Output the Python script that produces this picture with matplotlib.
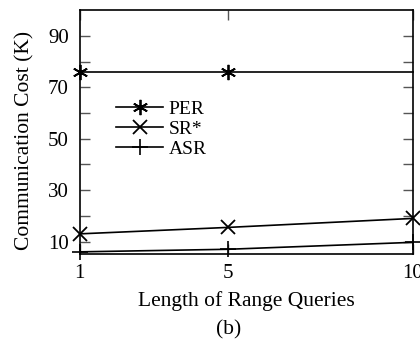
import matplotlib.pyplot as plt

plt.rcParams['font.family'] = ['Liberation Serif', 'DejaVu Serif']

# data
x = [1, 5, 10]
per = [76, 76, 76]
sr = [13, 15.5, 19]
asr = [6, 7, 9.7]

fig = plt.figure(figsize=(4.2, 3.49), dpi=100)
ax = fig.add_axes([0.190, 0.271, 0.793, 0.700])

ax.plot(x, per, color='black', lw=1.2, marker=(6, 2, 0), ms=11, mew=1.3,
        markevery=[0, 1], clip_on=False, label='PER')
ax.plot(x, sr, color='black', lw=1.2, marker='x', ms=10, mew=1.3,
        clip_on=False, label='SR*')
ax.plot(x, asr, color='black', lw=1.2, marker='+', ms=11, mew=1.2,
        clip_on=False, label='ASR')

ax.set_xlim(1, 10)
ax.set_ylim(5, 100)
ax.set_xticks([1, 5, 10])
ax.set_yticks(range(10, 100, 10))
ax.set_yticklabels([str(v) if v % 20 == 10 else '' for v in range(10, 100, 10)])
ax.tick_params(direction='in', length=7, width=1, color='#555555',
               top=True, right=True, labelsize=15)
ax.tick_params(axis='y', pad=8)
ax.tick_params(axis='x', pad=7)
for s in ax.spines.values():
    s.set_linewidth(1.2)

ax.set_xlabel('Length of Range Queries', fontsize=15.5, labelpad=6)
ax.set_ylabel('Communication Cost (K)', fontsize=15.5)
ax.yaxis.set_label_coords(-0.135, 0.465)
fig.text(0.545, 0.055, '(b)', ha='center', va='center', fontsize=15.5)

ax.legend(loc='upper left', bbox_to_anchor=(0.08, 0.67), frameon=False,
          fontsize=14, handlelength=2.4, labelspacing=0.12, handletextpad=0.3,
          borderpad=0)

fig.savefig('out.png', dpi=100)
